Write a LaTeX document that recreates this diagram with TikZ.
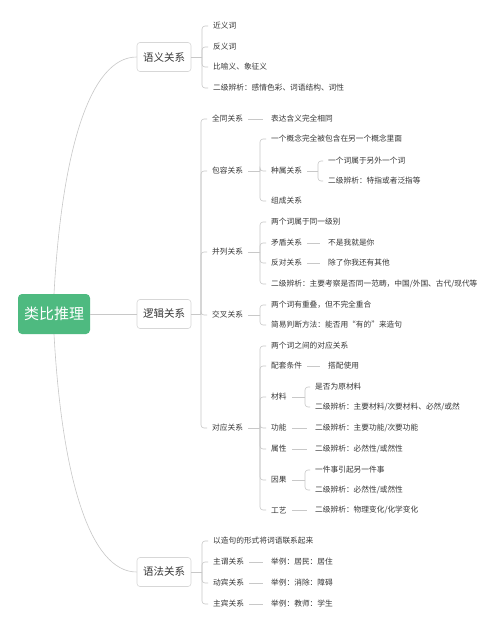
\documentclass[tikz,border=0pt]{standalone}
\usepackage{fontspec}
\setmainfont{Noto Sans CJK SC}
\definecolor{rootgreen}{RGB}{78,186,128}
\definecolor{linegray}{RGB}{200,200,200}
\definecolor{boxgray}{RGB}{215,215,215}
\definecolor{txt}{RGB}{55,55,55}
\tikzset{
  conn/.style={draw=linegray, line width=0.6pt},
  rootbox/.style={fill=rootgreen, text=white, rounded corners=4pt, minimum width=72pt, minimum height=40pt, inner sep=0pt, font=\fontsize{15}{15}\selectfont},
  topic/.style={draw=boxgray, fill=white, text=txt, rounded corners=3pt, line width=0.6pt, minimum width=54pt, minimum height=29pt, inner sep=0pt, font=\fontsize{10.5}{10.5}\selectfont},
  leaf/.style={anchor=west, text=txt, inner xsep=5pt, inner ysep=2pt, font=\fontsize{7.7}{7.7}\selectfont},
}
\newcommand\mybrk[3]{%
  \draw[conn] (#1.east) -- (#2,0 |- #1.east);
  \foreach \c in {#3} {\draw[conn, rounded corners=3pt] (#2,0 |- #1.east) |- (\c.west);}%
}
\newcommand\myline[2]{\draw[conn, shorten >=3pt] (#1.east) -- (#2.west);}
\begin{document}
\begin{tikzpicture}[x=1pt, y=-1pt]
\fill[white] (0,0) rectangle (500,629);
\useasboundingbox (0,0) rectangle (500,629);

\node[rootbox] (root) at (54,314) {类比推理};
\node[topic] (yy) at (164,57) {语义关系};
\node[topic] (lj) at (164,314) {逻辑关系};
\node[topic] (yf) at (164,572) {语法关系};

\draw[conn] (root.north) .. controls (62,150) and (90,57) .. (yy.west);
\draw[conn] (root.east) -- (lj.west);
\draw[conn] (root.south) .. controls (62,478) and (90,572) .. (yf.west);

% 语义关系
\node[leaf] (y1) at (208,26) {近义词};
\node[leaf] (y2) at (208,47) {反义词};
\node[leaf] (y3) at (208,67) {比喻义、象征义};
\node[leaf] (y4) at (208,88) {二级辨析：感情色彩、词语结构、词性};
\mybrk{yy}{202}{y1,y2,y3,y4}

% 逻辑关系
\node[leaf] (qt) at (207,119) {全同关系};
\node[leaf] (br) at (207,171) {包容关系};
\node[leaf] (bl) at (207,252) {并列关系};
\node[leaf] (jc) at (207,315) {交叉关系};
\node[leaf] (dy) at (207,428) {对应关系};
\mybrk{lj}{201}{qt,br,bl,jc,dy}

\node[leaf] (qt1) at (266,119) {表达含义完全相同};
\myline{qt}{qt1}

\node[leaf] (br1) at (266,139) {一个概念完全被包含在另一个概念里面};
\node[leaf] (zs) at (266,171) {种属关系};
\node[leaf] (br3) at (266,201) {组成关系};
\mybrk{br}{260}{br1,zs,br3}
\node[leaf] (zs1) at (323,161) {一个词属于另外一个词};
\node[leaf] (zs2) at (323,181) {二级辨析：特指或者泛指等};
\mybrk{zs}{318}{zs1,zs2}

\node[leaf] (bl1) at (266,222) {两个词属于同一级别};
\node[leaf] (md) at (266,243) {矛盾关系};
\node[leaf] (fd) at (266,263) {反对关系};
\node[leaf] (bl4) at (266,284) {二级辨析：主要考察是否同一范畴，中国/外国、古代/现代等};
\mybrk{bl}{260}{bl1,md,fd,bl4}
\node[leaf] (md1) at (323,243) {不是我就是你};
\myline{md}{md1}
\node[leaf] (fd1) at (323,263) {除了你我还有其他};
\myline{fd}{fd1}

\node[leaf] (jc1) at (266,305) {两个词有重叠，但不完全重合};
\node[leaf] (jc2) at (266,325) {简易判断方法：能否用“有的”来造句};
\mybrk{jc}{260}{jc1,jc2}

\node[leaf] (dy1) at (266,346) {两个词之间的对应关系};
\node[leaf] (pt) at (266,366) {配套条件};
\node[leaf] (cl) at (266,397) {材料};
\node[leaf] (gn) at (266,428) {功能};
\node[leaf] (sx) at (266,449) {属性};
\node[leaf] (yg) at (266,480) {因果};
\node[leaf] (gy) at (266,510) {工艺};
\mybrk{dy}{260}{dy1,pt,cl,gn,sx,yg,gy}

\node[leaf] (pt1) at (323,366) {搭配使用};
\myline{pt}{pt1}
\node[leaf] (cl1) at (310,387) {是否为原材料};
\node[leaf] (cl2) at (310,407) {二级辨析：主要材料/次要材料、必然/或然};
\mybrk{cl}{305}{cl1,cl2}
\node[leaf] (gn1) at (310,428) {二级辨析：主要功能/次要功能};
\myline{gn}{gn1}
\node[leaf] (sx1) at (310,449) {二级辨析：必然性/或然性};
\myline{sx}{sx1}
\node[leaf] (yg1) at (310,470) {一件事引起另一件事};
\node[leaf] (yg2) at (310,490) {二级辨析：必然性/或然性};
\mybrk{yg}{305}{yg1,yg2}
\node[leaf] (gy1) at (310,510) {二级辨析：物理变化/化学变化};
\myline{gy}{gy1}

% 语法关系
\node[leaf] (f1) at (208,541) {以造句的形式将词语联系起来};
\node[leaf] (zw) at (208,562) {主谓关系};
\node[leaf] (db) at (208,583) {动宾关系};
\node[leaf] (zb) at (208,604) {主宾关系};
\mybrk{yf}{202}{f1,zw,db,zb}
\node[leaf] (zw1) at (266,562) {举例：居民：居住};
\myline{zw}{zw1}
\node[leaf] (db1) at (266,583) {举例：消除：障碍};
\myline{db}{db1}
\node[leaf] (zb1) at (266,604) {举例：教师：学生};
\myline{zb}{zb1}
\end{tikzpicture}
\end{document}
